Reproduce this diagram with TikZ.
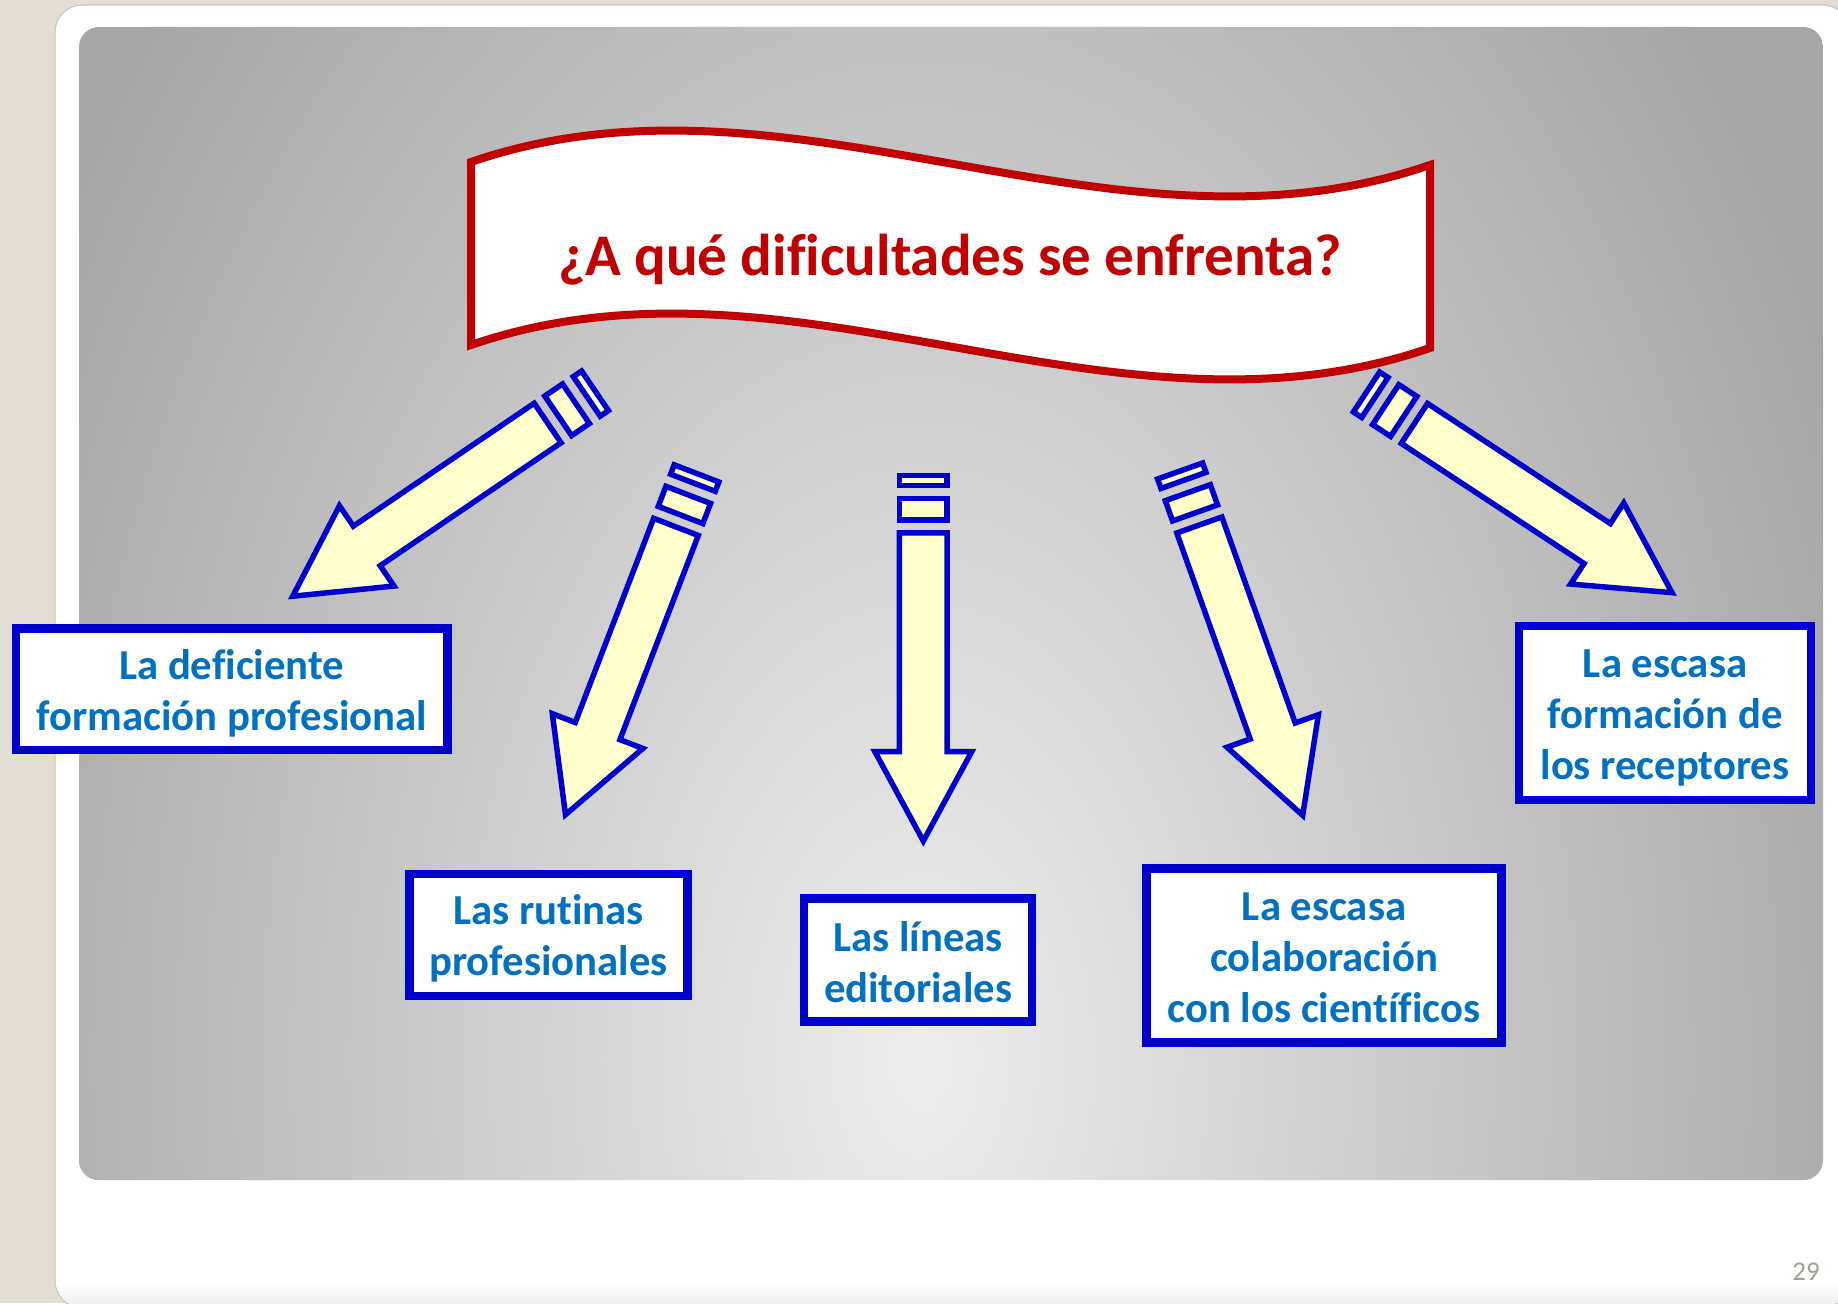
\documentclass[tikz,border=0pt]{standalone}
\usepackage{fontspec}
\setmainfont{Carlito}[Ligatures={TeX,NoCommon}]
\definecolor{beige}{HTML}{E4DDD2}
\definecolor{panelline}{HTML}{CCC7BD}
\definecolor{bgin}{HTML}{EDEDED}
\definecolor{bgout}{HTML}{A6A6A6}
\definecolor{bannerred}{HTML}{C00000}
\definecolor{boxblue}{HTML}{0000CC}
\definecolor{txtblue}{HTML}{0070C0}
\definecolor{arrowfill}{HTML}{FFFFCC}
\definecolor{pagenum}{HTML}{A39D93}
\begin{document}
\begin{tikzpicture}[x=1pt,y=-1pt,
  bannerline/.style={draw=bannerred,line width=8,fill=white,line join=miter},
  arrowline/.style={draw=boxblue,line width=5.5,fill=arrowfill,line join=miter},
  boxnode/.style={draw=boxblue,line width=8.5,fill=white,inner sep=0pt},
  boxtext/.style={inner sep=0pt,align=center,text=txtblue,
    font={\fontsize{42.7}{51}\selectfont\bfseries}},
  titlenode/.style={text=bannerred,inner sep=0pt,font={\fontsize{59}{71}\selectfont\bfseries}}]
\useasboundingbox (0,0) rectangle (1838,1303);
% page background
\fill[beige] (0,0) rectangle (1838,1303);
\begin{scope}
  \clip[rounded corners=27] (55,5) rectangle (1850,1308);
  \fill[white] (55,5) rectangle (1850,1308);
  \shade[top color=white,bottom color=black!8] (55,1284) rectangle (1850,1308);
\end{scope}
\draw[panelline,line width=1.2,rounded corners=27] (55,5) rectangle (1850,1308);
% grey slide panel
\begin{scope}
  \clip[rounded corners=20] (79,27) rectangle (1823,1180);
  \fill[bgout] (79,27) rectangle (1823,1180);
  \shade[inner color=bgin,outer color=bgout] (920,1060) ellipse [x radius=1010, y radius=1600];
\end{scope}
% banner
\draw[bannerline] (471,162) .. controls (791,52) and (1110,275) .. (1430,165)
  -- (1430,348) .. controls (1110,458) and (791,235) .. (471,345) -- cycle;
\node[titlenode,anchor=base] (title) at (950,275) {¿A qué dificultades se enfrenta?};
% striped arrows
\newcommand\stripedarrow[2]{%
  \begin{scope}[shift={(#1)},rotate=-#2]
    \draw[arrowline] (0,-23.9) rectangle (10,23.9);
    \draw[arrowline] (23,-23.9) rectangle (44.5,23.9);
    \draw[arrowline] (57.3,-23.9) -- (276,-23.9) -- (276,-48.5) -- (365.5,0)
      -- (276,48.5) -- (276,23.9) -- (57.3,23.9) -- cycle;
  \end{scope}}
\coordinate (t1) at (595,390.8);
\coordinate (t2) at (696.5,473.4);
\coordinate (t3) at (923.3,475.5);
\coordinate (t4) at (1180.1,471);
\coordinate (t5) at (1366.5,392);
\stripedarrow{t1}{145.8}
\stripedarrow{t2}{111}
\stripedarrow{t3}{90}
\stripedarrow{t4}{70.4}
\stripedarrow{t5}{33.3}
% boxes
\node[boxnode,minimum width=431.9pt,minimum height=121.7pt] (b1) at (231.75,689.15) {};
\node[boxnode,minimum width=278pt,minimum height=122pt] (b2) at (548.5,935) {};
\node[boxnode,minimum width=228pt,minimum height=123pt] (b3) at (918,960) {};
\node[boxnode,minimum width=354.6pt,minimum height=174pt] (b4) at (1324,955.5) {};
\node[boxnode,minimum width=291.6pt,minimum height=174.2pt] (b5) at (1665,712.9) {};
\node[boxtext,yshift=-4pt] (b1t) at (b1.center) {La deficiente\\formación profesional};
\node[boxtext,yshift=-3.5pt] (b2t) at (b2.center) {Las rutinas\\profesionales};
\node[boxtext,yshift=-2pt] (b3t) at (b3.center) {Las líneas\\editoriales};
\node[boxtext,yshift=-2pt] (b4t) at (b4.center) {La escasa\\colaboración\\con los científicos};
\node[boxtext,yshift=-5pt] (b5t) at (b5.center) {La escasa\\formación de\\los receptores};
% page number
\node[anchor=base east,inner sep=0pt,text=pagenum,font={\fontsize{27}{32}\selectfont}] (pnum) at (1820,1280) {29};
\end{tikzpicture}
\end{document}
